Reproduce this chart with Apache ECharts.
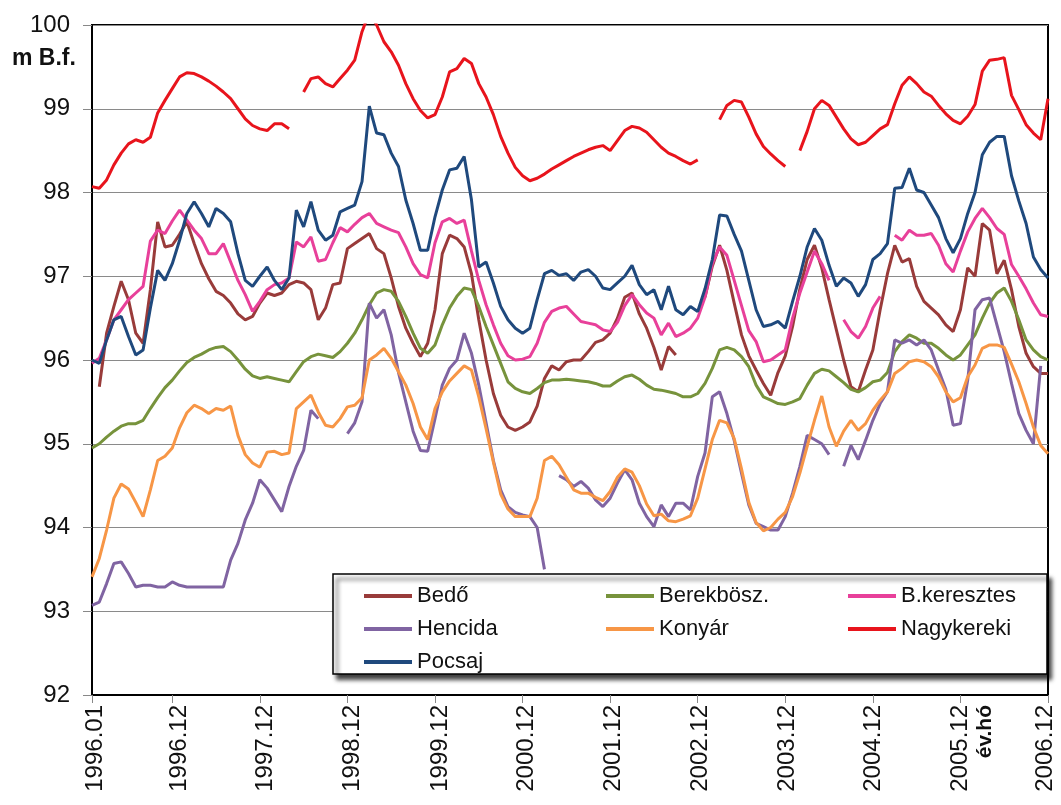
<!DOCTYPE html>
<html>
<head>
<meta charset="utf-8">
<script src="https://cdn.jsdelivr.net/npm/echarts@6/dist/echarts.min.js"></script>
<style>
html,body{margin:0;padding:0;background:#fff;}
#chart{width:1061px;height:805px;}
</style>
</head>
<body>
<div id="chart"></div>
<script>
// ---- categories (month labels) ----
const years = [1996, 1997, 1998, 1999, 2000, 2001, 2002, 2003, 2004, 2005, 2006];
const months = ['01','02','03','04','05','06','07','08','09','10','11','12'];
const categories = [];
years.forEach(function (y) { months.forEach(function (m) { categories.push(y + '.' + m); }); });

// ---- series values (m B.f.), one row per year ----
const bedo = [
  null, 95.68, 96.32, 96.64, 96.94, 96.72, 96.32, 96.2, 96.84, 97.65, 97.35, 97.37,
  97.5, 97.65, 97.39, 97.15, 96.97, 96.82, 96.77, 96.68, 96.55, 96.48, 96.52, 96.68,
  96.8, 96.77, 96.8, 96.9, 96.94, 96.92, 96.84, 96.48, 96.62, 96.9, 96.92, 97.33,
  97.39, 97.45, 97.51, 97.33, 97.27, 96.98, 96.64, 96.38, 96.2, 96.04, 96.2, 96.6,
  97.27, 97.49, 97.45, 97.35, 97.03, 96.48, 96.0, 95.6, 95.34, 95.2, 95.16, 95.2,
  95.26, 95.45, 95.78, 95.93, 95.88, 95.98, 96.0, 96.0, 96.1, 96.21, 96.24, 96.32,
  96.5, 96.75, 96.8, 96.55, 96.38, 96.15, 95.88, 96.16, 96.06, null, null, null,
  96.75, 97.12, 97.37, 97.07, 96.68, 96.3, 96.05, 95.88, 95.72, 95.58, 95.85, 96.05,
  96.4, 96.85, 97.2, 97.37, 97.1, 96.72, 96.36, 96.0, 95.68, 95.62, 95.88, 96.12,
  96.6, 97.03, 97.37, 97.17, 97.21, 96.88, 96.7, 96.62, 96.54, 96.42, 96.34, 96.6,
  97.1, 97.0, 97.63, 97.55, 97.03, 97.19, 96.84, 96.4, 96.08, 95.92, 95.84, 95.84
];
const berekbosz = [
  94.95, 95.0, 95.08, 95.15, 95.21, 95.24, 95.24, 95.28, 95.42, 95.55, 95.67, 95.76,
  95.87, 95.97, 96.03, 96.07, 96.12, 96.15, 96.16, 96.1, 96.0, 95.89, 95.81, 95.78,
  95.8, 95.78, 95.76, 95.74, 95.86, 95.98, 96.04, 96.07, 96.05, 96.03, 96.1, 96.2,
  96.32, 96.48, 96.66, 96.8, 96.84, 96.82, 96.7, 96.52, 96.32, 96.14, 96.08, 96.18,
  96.42, 96.62, 96.76, 96.86, 96.84, 96.64, 96.4, 96.18, 95.96, 95.74, 95.66, 95.62,
  95.6, 95.66, 95.73, 95.76, 95.76, 95.77, 95.76, 95.75, 95.74, 95.72, 95.69, 95.69,
  95.75, 95.8, 95.82, 95.77, 95.7, 95.65, 95.64, 95.62, 95.6, 95.56, 95.56, 95.6,
  95.72, 95.9, 96.12, 96.15, 96.12, 96.04, 95.92, 95.7, 95.56, 95.52, 95.48, 95.47,
  95.5, 95.54, 95.7, 95.84, 95.89, 95.87, 95.8, 95.73, 95.65, 95.62, 95.67, 95.74,
  95.76, 95.85, 96.1, 96.22, 96.3, 96.26, 96.2, 96.2, 96.14, 96.06, 96.0, 96.06,
  96.18, 96.3, 96.5, 96.68, 96.8, 96.86, 96.7, 96.48, 96.24, 96.12, 96.04, 96.0
];
const bkeresztes = [
  95.96, 96.02, 96.24, 96.48, 96.6, 96.72, 96.8, 96.88, 97.42, 97.55, 97.51, 97.66,
  97.79, 97.67, 97.55, 97.45, 97.27, 97.27, 97.39, 97.17, 96.95, 96.78, 96.58, 96.7,
  96.84, 96.9, 96.92, 96.98, 97.41, 97.35, 97.47, 97.18, 97.2, 97.4, 97.58, 97.53,
  97.62, 97.7, 97.75, 97.63, 97.59, 97.55, 97.52, 97.35, 97.15, 97.02, 96.98, 97.4,
  97.65, 97.69, 97.63, 97.67, 97.3, 96.95, 96.66, 96.42, 96.2, 96.05, 96.0, 96.01,
  96.04, 96.2, 96.45, 96.58, 96.62, 96.64, 96.55, 96.46, 96.44, 96.42, 96.36, 96.34,
  96.45, 96.65, 96.78, 96.66, 96.56, 96.5, 96.3, 96.44, 96.28, 96.32, 96.38, 96.5,
  96.75, 97.15, 97.35, 97.25, 96.95, 96.65, 96.35, 96.22, 95.98, 96.0, 96.06, 96.12,
  96.5, 96.8, 97.05, 97.3, 97.15, 96.95, null, 96.48, 96.34, 96.26, 96.4, 96.62,
  96.76, null, 97.49, 97.43, 97.55, 97.49, 97.49, 97.51, 97.37, 97.15, 97.05, 97.3,
  97.53, 97.69, 97.81, 97.7, 97.57, 97.5, 97.14, 97.0, 96.85, 96.68, 96.54, 96.52
];
const hencida = [
  93.07, 93.11, 93.33, 93.57, 93.59, 93.45, 93.29, 93.31, 93.31, 93.29, 93.29, 93.35,
  93.31, 93.29, 93.29, 93.29, 93.29, 93.29, 93.29, 93.61, 93.81, 94.09, 94.29, 94.57,
  94.47, 94.33, 94.19, 94.49, 94.73, 94.92, 95.4, 95.3, null, null, null, 95.12,
  95.25, 95.5, 96.68, 96.5, 96.6, 96.3, 95.85, 95.5, 95.15, 94.92, 94.91, 95.3,
  95.7, 95.9, 96.0, 96.32, 96.08, 95.7, 95.25, 94.8, 94.45, 94.25, 94.18, 94.15,
  94.13, 94.0, 93.5, null, 94.62, 94.57, 94.49, 94.55, 94.47, 94.33, 94.25, 94.35,
  94.53, 94.69, 94.57, 94.29, 94.13, 94.01, 94.27, 94.13, 94.29, 94.29, 94.21, 94.61,
  94.89, 95.56, 95.62, 95.36, 95.04, 94.65, 94.27, 94.05, 94.01, 93.97, 93.97, 94.13,
  94.41, 94.73, 95.1, 95.05, 95.0, 94.87, null, 94.73, 94.98, 94.81, 95.04, 95.28,
  95.48, 95.62, 96.24, 96.2, 96.24, 96.18, 96.24, 96.12, 95.88, 95.65, 95.22, 95.24,
  95.76, 96.6, 96.72, 96.74, 96.42, 96.1, 95.72, 95.36, 95.16, 95.0, 95.93, null
];
const konyar = [
  93.41, 93.63, 93.97, 94.35, 94.52, 94.46, 94.3, 94.13, 94.45, 94.8, 94.85, 94.95,
  95.19, 95.37, 95.46, 95.42, 95.36, 95.42, 95.4, 95.45, 95.1, 94.87, 94.77, 94.72,
  94.9, 94.91, 94.87, 94.89, 95.42, 95.5, 95.58, 95.38, 95.22, 95.2, 95.3, 95.44,
  95.46, 95.55, 96.0, 96.06, 96.14, 96.02, 95.86, 95.7, 95.48, 95.2, 95.05, 95.42,
  95.62, 95.75, 95.84, 95.93, 95.88, 95.56, 95.18, 94.78, 94.4, 94.22, 94.13, 94.13,
  94.13, 94.35, 94.8, 94.85, 94.75, 94.6, 94.45, 94.41, 94.41, 94.36, 94.32, 94.43,
  94.6, 94.7, 94.66, 94.5, 94.28, 94.14, 94.16, 94.08, 94.07, 94.1, 94.14, 94.35,
  94.7, 95.05, 95.28, 95.25, 95.06, 94.7, 94.3, 94.06, 93.96, 94.0, 94.1, 94.18,
  94.37, 94.65, 94.97, 95.28, 95.57, 95.2, 94.97, 95.15, 95.28, 95.16, 95.24, 95.4,
  95.52, 95.62, 95.84, 95.9, 95.98, 96.0, 95.98, 95.92, 95.8, 95.62, 95.5, 95.55,
  95.8, 95.94, 96.14, 96.18, 96.18, 96.15, 95.95, 95.74, 95.48, 95.2, 94.98, 94.88
];
const nagykereki = [
  98.07, 98.05, 98.15, 98.33, 98.47, 98.58, 98.63, 98.6, 98.66, 98.95, 99.1, 99.24,
  99.38, 99.43, 99.42, 99.38, 99.33, 99.27, 99.2, 99.12, 99.0, 98.88, 98.8, 98.76,
  98.74, 98.82, 98.82, 98.76, null, 99.2, 99.36, 99.38, 99.3, 99.26, 99.36, 99.46,
  99.58, 99.92, 100.15, 100.0, 99.8, 99.68, 99.52, 99.3, 99.12, 98.98, 98.89, 98.93,
  99.14, 99.44, 99.48, 99.6, 99.54, 99.3, 99.14, 98.93, 98.67, 98.47, 98.3, 98.2,
  98.14, 98.17, 98.22, 98.28, 98.33, 98.38, 98.43, 98.47, 98.51, 98.54, 98.56, 98.5,
  98.62, 98.74, 98.79, 98.77, 98.72, 98.63, 98.54, 98.47, 98.43, 98.38, 98.34, 98.39,
  null, null, 98.87, 99.04, 99.1, 99.08, 98.9, 98.7, 98.55, 98.46, 98.38, 98.31,
  null, 98.5, 98.73, 99.0, 99.1, 99.04, 98.9, 98.76, 98.64, 98.57, 98.6, 98.68,
  98.76, 98.81, 99.06, 99.28, 99.38, 99.3, 99.2, 99.15, 99.04, 98.94, 98.86, 98.82,
  98.91, 99.05, 99.45, 99.58, 99.59, 99.61, 99.16, 98.99, 98.81, 98.71, 98.63, 99.12
];
const pocsaj = [
  96.0, 95.96, 96.24, 96.48, 96.52, 96.28, 96.06, 96.12, 96.62, 97.07, 96.95, 97.15,
  97.43, 97.75, 97.89, 97.75, 97.59, 97.81, 97.75, 97.65, 97.27, 96.95, 96.88, 97.0,
  97.11, 96.95, 96.84, 96.98, 97.79, 97.59, 97.89, 97.55, 97.43, 97.49, 97.77, 97.81,
  97.85, 98.13, 99.03, 98.71, 98.69, 98.47, 98.31, 97.91, 97.63, 97.31, 97.31, 97.71,
  98.03, 98.27, 98.29, 98.43, 97.91, 97.11, 97.17, 96.92, 96.64, 96.48, 96.38, 96.32,
  96.38, 96.72, 97.03, 97.07, 97.01, 97.03, 96.95, 97.05, 97.08, 97.0, 96.86, 96.84,
  96.92, 97.0, 97.13, 96.9, 96.78, 96.84, 96.6, 96.88, 96.6, 96.54, 96.64, 96.58,
  96.85, 97.2, 97.73, 97.72, 97.5, 97.3, 96.95, 96.6, 96.4, 96.42, 96.46, 96.38,
  96.7, 97.0, 97.35, 97.57, 97.43, 97.13, 96.88, 96.98, 96.92, 96.76, 96.9, 97.2,
  97.27, 97.39, 98.05, 98.06, 98.29, 98.03, 98.0, 97.85, 97.7, 97.45, 97.28, 97.45,
  97.75, 98.0, 98.45, 98.6, 98.67, 98.67, 98.2, 97.9, 97.63, 97.23, 97.08, 96.98
];

// ---- series names & y tick range ----
const seriesNames = ['Bedő', 'Berekbösz.', 'B.keresztes', 'Hencida', 'Konyár', 'Nagykereki', 'Pocsaj'];
const seriesValues = [bedo, berekbosz, bkeresztes, hencida, konyar, nagykereki, pocsaj];
const seriesColors = ['#993B3A', '#77933C', '#E8409A', '#8064A2', '#F79646', '#E8141C', '#1F497D'];
const yMin = 92, yMax = 100, yStep = 1;
const yAxisName = 'm B.f.';
const xAxisName = 'év.hó';

const FONT = "'Liberation Sans', Arial, sans-serif";
function showLabel(idx) { return idx === 0 || (idx + 1) % 12 === 0; }

// small per-label nudges so rotated labels sit on the year ticks as in the source
const richLabel = {};
for (let k = 0; k <= 11; k++) {
  let shift = k === 0 ? 3 : (k === 11 ? -3 : Math.round(7.3 - 0.68 * k));
  richLabel['p' + k] = {
    fontSize: 24, color: '#111', fontFamily: FONT,
    padding: shift >= 0 ? [2 * shift, 0, 0, 0] : [0, 0, -2 * shift, 0]
  };
}

const chart = echarts.init(document.getElementById('chart'), null, { renderer: 'canvas' });

const legendBase = {
  orient: 'vertical', top: 580, itemWidth: 48, itemHeight: 4, itemGap: 11,
  icon: 'rect', selectedMode: false, z: 10,
  textStyle: { fontSize: 22, color: '#111', fontFamily: FONT }
};

chart.setOption({
  animation: false,
  backgroundColor: '#fff',
  grid: { left: 92, right: 13, top: 25, bottom: 110, show: true, borderColor: '#000', borderWidth: 2 },
  xAxis: {
    type: 'category', data: categories, boundaryGap: false,
    axisLine: { lineStyle: { color: '#000', width: 2 } },
    axisTick: { show: true, interval: showLabel, length: 8, lineStyle: { color: '#888' } },
    axisLabel: {
      interval: showLabel, rotate: 90, fontSize: 24, color: '#111', fontFamily: FONT, margin: 10,
      formatter: function (value, index) {
        const k = index === 0 ? 0 : Math.round((index + 1) / 12);
        return '{p' + k + '|' + value + '}';
      },
      rich: richLabel
    },
    splitLine: { show: false }
  },
  yAxis: {
    type: 'value', min: yMin, max: yMax, interval: yStep,
    axisLine: { show: true, lineStyle: { color: '#000', width: 2 } },
    axisTick: { show: true, length: 9, lineStyle: { color: '#888' } },
    axisLabel: { fontSize: 24, color: '#111', fontFamily: FONT, margin: 22 },
    splitLine: { lineStyle: { color: '#8a8a8a', width: 1 } }
  },
  legend: [
    Object.assign({}, legendBase, { left: 359, data: ['Bedő', 'Hencida', 'Pocsaj'] }),
    Object.assign({}, legendBase, { left: 601, data: ['Berekbösz.', 'Konyár'] }),
    Object.assign({}, legendBase, { left: 843, data: ['B.keresztes', 'Nagykereki'] })
  ],
  graphic: [
    {
      type: 'rect', z: 8,
      shape: { x: 333, y: 574, width: 714, height: 100 },
      style: { fill: '#fff', stroke: '#000', lineWidth: 1.5,
               shadowBlur: 4, shadowOffsetX: 4, shadowOffsetY: 5, shadowColor: 'rgba(0,0,0,0.75)' }
    },
    {
      type: 'text', z: 8, x: 12, y: 59,
      style: { text: yAxisName, font: 'bold 23px ' + FONT, fill: '#111', textAlign: 'left', textVerticalAlign: 'middle' }
    },
    {
      type: 'text', z: 8, x: 985, y: 705, rotation: Math.PI / 2,
      style: { text: xAxisName, font: 'bold 21px ' + FONT, fill: '#111', textAlign: 'right', textVerticalAlign: 'middle' }
    }
  ],
  series: seriesNames.map(function (name, k) {
    return {
      name: name, type: 'line', data: seriesValues[k],
      symbol: 'none', connectNulls: false, clip: true,
      lineStyle: { width: 3, color: seriesColors[k] },
      itemStyle: { color: seriesColors[k] },
      z: 2 + k * 0.01
    };
  })
});
</script>
</body>
</html>
